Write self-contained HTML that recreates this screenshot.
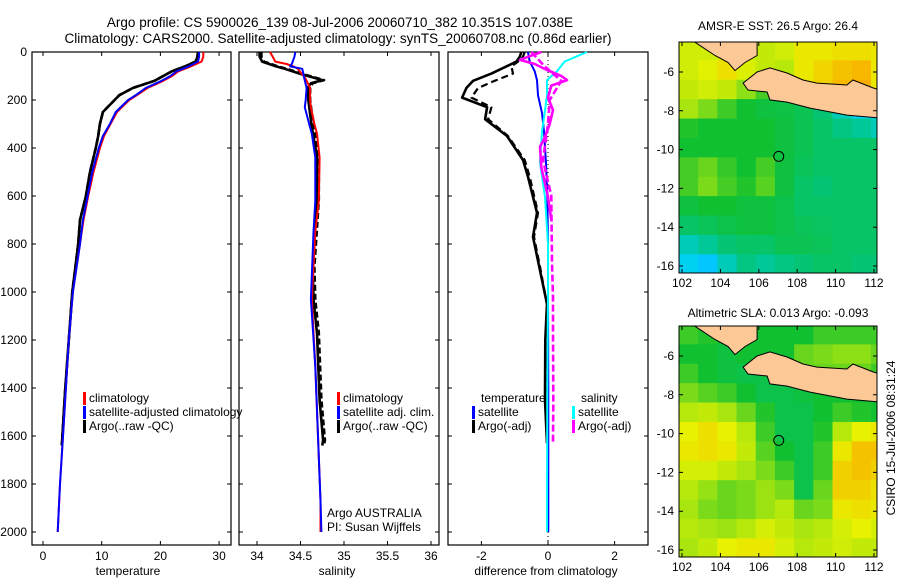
<!DOCTYPE html>
<html><head><meta charset="utf-8"><style>
html,body{margin:0;padding:0;background:#fff;}
svg{display:block;font-family:"Liberation Sans",sans-serif;}
text{fill:#000;}
</style></head><body>
<svg id="fig" width="900" height="580" viewBox="0 0 900 580" xmlns="http://www.w3.org/2000/svg">
<rect x="0" y="0" width="900" height="580" fill="#fff"/>
<text x="340" y="27" font-size="13.5" text-anchor="middle">Argo profile: CS 5900026_139 08-Jul-2006 20060710_382 10.351S 107.038E</text>
<text x="338" y="43" font-size="13.5" text-anchor="middle">Climatology: CARS2000. Satellite-adjusted climatology: synTS_20060708.nc (0.86d earlier)</text>
<text x="778" y="30" font-size="12" text-anchor="middle">AMSR-E SST: 26.5  Argo: 26.4</text>
<text x="778" y="317" font-size="12" text-anchor="middle">Altimetric SLA: 0.013  Argo: -0.093</text>
<text x="0" y="0" font-size="12" text-anchor="middle" transform="translate(895,438) rotate(-90)">CSIRO 15-Jul-2006 08:31:24</text>
<text x="128" y="575" font-size="12" text-anchor="middle">temperature</text>
<text x="337" y="575" font-size="12" text-anchor="middle">salinity</text>
<text x="546" y="575" font-size="12" text-anchor="middle">difference from climatology</text>
<g id="plots"></g>
</svg>
<script>
// ---------- data ----------
const depths = [0,20,40,60,80,100,120,150,180,200,250,300,350,400,500,600,700,800,1000,1200,1400,1600,1800,2000];
const tempClim = [27.3,27.3,27.0,25.2,23.1,22.0,20.5,17.8,16.0,14.7,12.6,11.5,10.4,9.7,8.6,7.7,6.9,6.3,5.1,4.4,3.9,3.4,2.9,2.5];
const tempSat  = [26.6,26.6,26.4,24.8,22.8,21.7,20.2,17.5,15.8,14.5,12.4,11.4,10.2,9.5,8.4,7.6,6.8,6.3,5.1,4.4,3.9,3.4,2.9,2.5];
const argoDepths = [0,20,40,60,80,100,120,150,180,200,250,300,350,400,500,600,700,800,1000,1200,1400,1600,1640];
const tempArgo = [26.4,26.3,26.0,24.2,22.0,20.5,19.0,15.3,13.0,12.2,10.2,9.7,9.4,9.0,8.0,7.3,6.3,6.0,5.0,4.4,3.8,3.3,3.2];

const salDepths = [0,20,40,50,60,70,85,105,150,200,230,300,340,440,620,750,1030,1310,1590,1870,2000];
const salClim = [34.15,34.18,34.21,34.34,34.42,34.47,34.50,34.55,34.61,34.61,34.62,34.66,34.69,34.72,34.71,34.67,34.63,34.67,34.70,34.73,34.73];
const salSat  = [34.44,34.43,34.41,34.40,34.38,34.52,34.53,34.54,34.57,34.56,34.55,34.60,34.63,34.67,34.67,34.65,34.62,34.67,34.70,34.73,34.74];
const salArgoDepths = [0,20,40,60,70,90,117,130,145,200,312,437,617,896,1033,1171,1450,1617,1640];
const salArgo = [34.03,34.03,34.06,34.22,34.32,34.49,34.75,34.62,34.59,34.59,34.63,34.69,34.69,34.64,34.65,34.69,34.72,34.76,34.75];

const diffDepths = [0,20,40,60,90,120,150,190,230,280,350,450,520,670,770,910,1050,1200,1450,1630];
const dTempArgo = [-0.8,-0.85,-0.95,-1.25,-1.7,-2.25,-2.45,-2.58,-1.83,-1.89,-1.23,-0.75,-0.6,-0.33,-0.45,-0.24,-0.03,-0.08,-0.09,-0.03];
const dTempArgoDash = [-0.7,-0.75,-0.9,-1.1,-1.05,-1.6,-2.1,-2.3,-1.7,-1.8,-1.2,-0.7,-0.55,-0.3,-0.42,-0.22,-0.03,-0.07,-0.08,-0.03];
const satDepths = [0,40,80,117,180,254,330,462,604,800,1000,1400,1880,2000];
const dTempSat = [-0.6,-0.55,-0.4,-0.33,-0.3,-0.18,-0.12,-0.06,-0.02,0.0,0.0,0.01,0.01,0.01];
const dSalSat  = [1.17,0.5,0.27,-0.03,-0.03,-0.1,-0.18,-0.24,-0.09,0.0,0.0,-0.02,-0.03,-0.03];
const salDiffDepths = [0,20,33,50,75,100,117,140,190,242,300,354,395,480,604,700];
const dSalArgo = [-0.2,-0.6,-0.84,-0.4,-0.03,0.4,0.57,0.1,0.0,0.15,0.05,-0.09,-0.24,-0.2,0.0,0.1];
const dashSalDepths = [0,60,120,200,300,450,600,879,1021,1171,1450,1629];
const dSalArgoDash = [-0.5,-0.1,0.4,0.05,0.0,-0.15,0.1,0.12,0.15,0.15,0.16,0.15];

const depthTicks = [0,200,400,600,800,1000,1200,1400,1600,1800,2000];
const tempTicks = [0,10,20,30];
const salTicks = [34,34.5,35,35.5,36];
const diffTicks = [-2,0,2];
const lonTicks = [102,104,106,108,110,112];
const latTicks = [-6,-8,-10,-12,-14,-16];

// map grids: rows from lat -4.4 downward in 1-degree steps; columns from lon 101.84 eastward
const sstGrid = [
[0.74,0.74,0.76,0.74,0.72,0.74,0.80,0.80,0.82,0.82,0.80],
[0.74,0.77,0.82,0.76,0.72,0.70,0.80,0.84,0.88,0.90,0.80],
[0.72,0.74,0.72,0.64,0.56,0.50,0.80,0.85,0.90,0.92,0.80],
[0.68,0.62,0.55,0.50,0.48,0.47,0.45,0.40,0.30,0.22,0.18],
[0.52,0.50,0.50,0.50,0.50,0.48,0.45,0.42,0.38,0.35,0.30],
[0.50,0.50,0.50,0.50,0.50,0.48,0.45,0.42,0.42,0.42,0.42],
[0.56,0.60,0.54,0.50,0.56,0.48,0.44,0.42,0.42,0.42,0.42],
[0.56,0.62,0.56,0.52,0.58,0.48,0.42,0.40,0.42,0.42,0.42],
[0.48,0.50,0.50,0.48,0.48,0.46,0.42,0.42,0.42,0.42,0.42],
[0.42,0.44,0.46,0.48,0.48,0.46,0.44,0.43,0.42,0.42,0.42],
[0.30,0.35,0.40,0.42,0.42,0.45,0.45,0.44,0.42,0.42,0.42],
[0.22,0.18,0.30,0.38,0.35,0.38,0.40,0.42,0.42,0.40,0.40]];
const slaGrid = [
[0.55,0.52,0.50,0.50,0.50,0.50,0.50,0.55,0.55,0.55,0.55],
[0.50,0.50,0.48,0.50,0.50,0.50,0.60,0.62,0.64,0.64,0.60],
[0.55,0.50,0.48,0.46,0.46,0.50,0.60,0.60,0.60,0.60,0.55],
[0.62,0.58,0.55,0.50,0.46,0.46,0.48,0.50,0.50,0.50,0.50],
[0.70,0.72,0.68,0.60,0.52,0.46,0.46,0.50,0.55,0.52,0.50],
[0.78,0.82,0.78,0.70,0.55,0.46,0.46,0.52,0.70,0.78,0.80],
[0.80,0.82,0.80,0.72,0.58,0.50,0.46,0.55,0.80,0.88,0.88],
[0.75,0.75,0.72,0.68,0.62,0.55,0.46,0.55,0.85,0.88,0.85],
[0.70,0.65,0.60,0.62,0.66,0.62,0.46,0.60,0.85,0.85,0.82],
[0.68,0.62,0.60,0.62,0.66,0.70,0.60,0.62,0.80,0.82,0.80],
[0.70,0.68,0.66,0.70,0.75,0.72,0.68,0.70,0.75,0.78,0.75],
[0.68,0.72,0.78,0.80,0.80,0.75,0.70,0.72,0.74,0.72,0.72]];
const argoLon = 107.038, argoLat = -10.351;
const javaLon = [105.91,106.58,107.47,108.30,109.03,110.59,110.90,111.95,112.30,112.30,110.59,108.67,107.47,106.58,106.43,105.44,105.18];
const javaLat = [-6.00,-5.79,-6.05,-6.41,-6.57,-6.67,-6.41,-6.82,-6.93,-8.37,-8.22,-7.86,-7.55,-7.44,-7.03,-6.93,-6.57];
const sumLon = [102.42,105.91,105.91,105.28,104.76,104.40,103.72,102.94];
const sumLat = [-4.30,-4.30,-5.15,-5.51,-5.93,-5.51,-5.15,-4.64];

// ---------- helpers ----------
const NS='http://www.w3.org/2000/svg';
const root=document.getElementById('plots');
function mk(tag,attrs,parent){const e=document.createElementNS(NS,tag);for(const k in attrs)e.setAttribute(k,attrs[k]);(parent||root).appendChild(e);return e;}
const yD = d => 52 + 0.24*d;
const xT = t => 43 + 5.87*t;
const xS = s => 257 + 87*(s-34);
const xDf = v => 548 + 33.3*v;
const mLon = lon => 682 + 19.2*(lon-102);
const mLat = (lat,off) => 72 + off + 19.4*(-6-lat);

function frame(x0,x1,name){
  const r=mk('rect',{x:x0,y:52,width:x1-x0,height:493,fill:'none',stroke:'#000','stroke-width':1.2});
  
  
  depthTicks.forEach(d=>{
    const t=mk('path',{d:`M${x0},${yD(d)}h4M${x1},${yD(d)}h-4`,stroke:'#000','stroke-width':1});
    
    
  });
}
function xticks(ticks,fx,name){
  ticks.forEach(v=>{
    const x=fx(v);
    const t=mk('path',{d:`M${x},545v-4M${x},52v4`,stroke:'#000','stroke-width':1});
    
    
    const l=mk('text',{x:x,y:560,'font-size':12,'text-anchor':'middle'});
    l.textContent=String(v);
    
    
  });
}
function line(xs,ds,fx,color,w,name,dash){
  const pts=xs.map((v,i)=>fx(v).toFixed(1)+','+yD(ds[i]).toFixed(1)).join(' ');
  const a={points:pts,fill:'none',stroke:color,'stroke-width':w,'stroke-linejoin':'round'};
  if(dash)a['stroke-dasharray']=dash;
  const p=mk('polyline',a);
  
  
}
function legend(x,y,color,label,name){
  if(color){const b=mk('rect',{x:x,y:y-10,width:3,height:13,fill:color});
    
    }
  const t=mk('text',{x:x+6,y:y,'font-size':12});
  t.textContent=label;
  
  
}

// ---------- profile panels ----------
frame(32,231,'temperature-panel');
frame(239,439,'salinity-panel');
frame(448,648,'difference-panel');
depthTicks.forEach(d=>{
  const l=mk('text',{x:27,y:yD(d)+4,'font-size':12,'text-anchor':'end'});
  l.textContent=String(d);
  
  
});
xticks(tempTicks,xT,'temperature');
xticks(salTicks,xS,'salinity');
xticks(diffTicks,xDf,'difference');

line(tempArgo,argoDepths,xT,'#000',2.6,'temperature-argo-line');
line(tempArgo,argoDepths,xT,'#000',2.6,'temperature-argo-dashed-line','6,3');
line(tempClim,depths,xT,'#f00',2,'temperature-climatology-line');
line(tempSat,depths,xT,'#00f',2,'temperature-satellite-line');

line(salArgo,salArgoDepths,xS,'#000',2.6,'salinity-argo-line');
line(salArgo.map(v=>v+0.02),salArgoDepths,xS,'#000',2.6,'salinity-argo-dashed-line','6,3');
line(salClim,salDepths,xS,'#f00',2,'salinity-climatology-line');
line(salSat,salDepths,xS,'#00f',2,'salinity-satellite-line');

const zl=mk('path',{d:`M${xDf(0)},52V545`,stroke:'#000','stroke-width':1,'stroke-dasharray':'1,3'});


line(dTempArgo,diffDepths,xDf,'#000',2.6,'temperature-argo-difference-line');
line(dTempArgoDash,diffDepths,xDf,'#000',2.2,'temperature-argo-difference-dashed-line','7,4');
line(dTempSat,satDepths,xDf,'#00f',2,'temperature-satellite-difference-line');
line(dSalSat,satDepths,xDf,'#0ff',2,'salinity-satellite-difference-line');
line(dSalArgo,salDiffDepths,xDf,'#f0f',2.6,'salinity-argo-difference-line');
line(dSalArgoDash,dashSalDepths,xDf,'#f0f',2.6,'salinity-argo-difference-dashed-line','7,3');

legend(83,402,'#f00','climatology','temp-legend-climatology');
legend(83,416,'#00f','satellite-adjusted climatology','temp-legend-satellite');
legend(83,430,'#000','Argo(..raw -QC)','temp-legend-argo');
legend(337,402,'#f00','climatology','sal-legend-climatology');
legend(337,416,'#00f','satellite adj. clim.','sal-legend-satellite');
legend(337,430,'#000','Argo(..raw -QC)','sal-legend-argo');
legend(321,517,null,'Argo AUSTRALIA','argo-australia-label');
legend(321,531,null,'PI: Susan Wijffels','pi-label');
legend(475,402,null,'temperature','diff-legend-temperature-heading');
legend(472,416,'#00f','satellite','diff-legend-temp-satellite');
legend(472,430,'#000','Argo(-adj)','diff-legend-temp-argo');
legend(575,402,null,'salinity','diff-legend-salinity-heading');
legend(572,416,'#0ff','satellite','diff-legend-sal-satellite');
legend(572,430,'#f0f','Argo(-adj)','diff-legend-sal-argo');

// ---------- maps ----------
const stops=[[0,[30,90,255]],[0.2,[0,210,255]],[0.35,[0,200,150]],[0.5,[16,192,48]],[0.65,[150,225,20]],[0.78,[232,242,0]],[0.9,[248,184,0]],[1,[240,128,0]]];
function cmap(v){for(let i=1;i<stops.length;i++){if(v<=stops[i][0]){const a=stops[i-1],b=stops[i],f=(v-a[0])/(b[0]-a[0]);return 'rgb('+a[1].map((c,k)=>Math.round(c+f*(b[1][k]-c))).join(',')+')';}}return 'rgb(240,128,0)';}
function drawMap(grid,off,name){
  const top=42+off, bot=273+off;
  const cp=mk('clipPath',{id:'clip'+name});
  mk('rect',{x:679,y:top,width:198,height:bot-top},cp);
  const g=mk('g',{'clip-path':`url(#clip${name})`});
  
  
  grid.forEach((row,i)=>row.forEach((v,j)=>{
    const lon0=101.84+j, lat0=-4.4-i;
    const c=mk('rect',{x:mLon(lon0),y:mLat(lat0,off),width:19.6,height:19.8,fill:cmap(v)},g);
    
    
  }));
  const poly=(lons,lats,nm)=>{
    const p=mk('polygon',{points:lons.map((l,k)=>mLon(l).toFixed(1)+','+mLat(lats[k],off).toFixed(1)).join(' '),fill:'#fcc896',stroke:'#000','stroke-width':1},g);
    
    
  };
  poly(javaLon,javaLat,name+'-java-land');
  poly(sumLon,sumLat,name+'-sumatra-land');
  const m=mk('circle',{cx:mLon(argoLon),cy:mLat(argoLat,off),r:5,fill:'none',stroke:'#000','stroke-width':1});
  
  
  const f=mk('rect',{x:679,y:top,width:198,height:bot-top,fill:'none',stroke:'#000','stroke-width':1});
  
  
  lonTicks.forEach(lon=>{
    const x=mLon(lon);
    const t=mk('path',{d:`M${x},${bot}v-4M${x},${top}v4`,stroke:'#000'});
    
    
    const l=mk('text',{x:x,y:bot+14,'font-size':12,'text-anchor':'middle'});
    l.textContent=String(lon);
    
    
  });
  latTicks.forEach(lat=>{
    const y=mLat(lat,off);
    const t=mk('path',{d:`M679,${y}h4M877,${y}h-4`,stroke:'#000'});
    
    
    const l=mk('text',{x:674,y:y+4,'font-size':12,'text-anchor':'end'});
    l.textContent=String(lat);
    
    
  });
}
drawMap(sstGrid,0,'sst-map');
drawMap(slaGrid,284,'sla-map');
</script>
</body></html>
